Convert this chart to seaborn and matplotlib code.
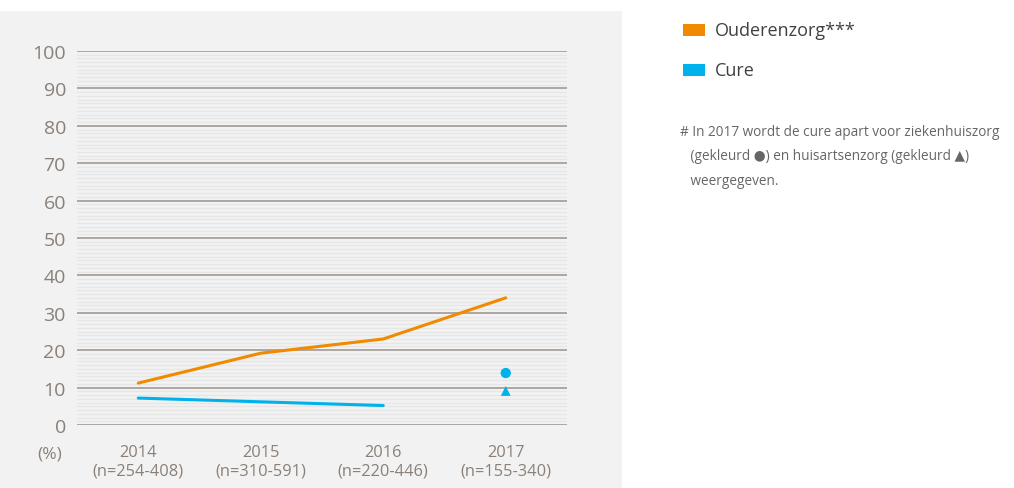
import numpy as np
import pandas as pd
import matplotlib.pyplot as plt
import seaborn as sns
from matplotlib.patches import Rectangle

years = [2014, 2015, 2016, 2017]
n_labels = ['(n=254-408)', '(n=310-591)', '(n=220-446)', '(n=155-340)']
ouderenzorg = [11.2, 19.2, 23.0, 34.0]
cure_years = [2014, 2015, 2016]
cure = [7.2, 6.2, 5.2]
cure_zh_2017 = 13.9   # ziekenhuiszorg (circle)
cure_ha_2017 = 9.1    # huisartsenzorg (triangle)

orange = '#f08a00'
blue = '#00b2ea'
txt = '#8a8078'

sns.set_theme(style='white')
plt.rcParams['font.family'] = ['Open Sans', 'DejaVu Sans']

fig = plt.figure(figsize=(10.14, 4.89), dpi=100)
fig.patch.set_facecolor('white')
fig.patches.append(Rectangle((0, 0), 622 / 1014, 477 / 489, transform=fig.transFigure,
                             facecolor='#f2f2f2', edgecolor='none', zorder=-10))

ax = fig.add_axes([77 / 1014, 63 / 489, 490 / 1014, 374 / 489])
ax.set_facecolor('none')

# fine stripes + major gridlines
for v in np.arange(0, 100, 1.0):
    if v % 10 != 0:
        ax.axhline(v, color='#e6e6e6', lw=0.9, zorder=0)
for v in range(0, 101, 10):
    ax.axhline(v, color='#9b928a', lw=1.1, zorder=1)

df_o = pd.DataFrame({'year': years, 'val': ouderenzorg})
df_c = pd.DataFrame({'year': cure_years, 'val': cure})
sns.lineplot(data=df_o, x='year', y='val', color=orange, lw=2.2, ax=ax, zorder=3)
sns.lineplot(data=df_c, x='year', y='val', color=blue, lw=2.2, ax=ax, zorder=3)
sns.scatterplot(x=[2017], y=[cure_zh_2017], color=blue, marker='o', s=55,
                edgecolor='none', ax=ax, zorder=4)
sns.scatterplot(x=[2017], y=[cure_ha_2017], color=blue, marker='^', s=50,
                edgecolor='none', ax=ax, zorder=4)

ax.set_xlim(2013.5, 2017.5)
ax.set_ylim(0, 100)
ax.set_yticks(range(0, 101, 10))
ax.set_yticklabels([str(v) for v in range(0, 101, 10)], fontsize=14, color=txt)
ax.set_xticks(years)
ax.set_xticklabels([f'{y}\n{n}' for y, n in zip(years, n_labels)],
                   fontsize=11.8, color=txt, linespacing=1.15)
ax.tick_params(axis='y', length=0, pad=8)
ax.tick_params(axis='x', length=0, pad=14)
ax.set_xlabel('')
ax.set_ylabel('')
for s in ax.spines.values():
    s.set_visible(False)

fig.text(37 / 1014, 1 - 455 / 489, '(%)', fontsize=12.5, color=txt, va='center', ha='left')

# legend
for yy, col, lab in [(31, orange, 'Ouderenzorg***'), (71, blue, 'Cure')]:
    fig.patches.append(Rectangle((683 / 1014, 1 - (yy + 6) / 489), 22 / 1014, 12 / 489,
                                 transform=fig.transFigure, facecolor=col, edgecolor='none'))
    fig.text(715 / 1014, 1 - yy / 489, lab, fontsize=13, color='#404040', va='center')

note = ('# In 2017 wordt de cure apart voor ziekenhuiszorg\n'
        '   (gekleurd \u25CF) en huisartsenzorg (gekleurd \u25B2)\n'
        '   weergegeven.')
fig.text(680 / 1014, 1 - 125 / 489, note, fontsize=9.8, color='#666666', va='top',
         linespacing=1.85)

fig.savefig('out.png', dpi=100)
